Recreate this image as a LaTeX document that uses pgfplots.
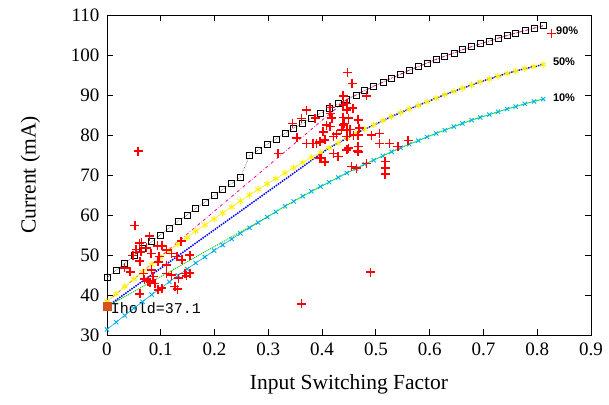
\documentclass[border=0pt]{standalone}
\usepackage{fontspec}
\setmainfont{Liberation Serif}
\newfontfamily\tagfont{Liberation Sans}
\newfontfamily\holdfont{Liberation Mono}
\usepackage{pgfplots}
\pgfplotsset{compat=1.18}
\usepackage{pgfplotstable}

\definecolor{holdpt}{HTML}{D4531E}
\definecolor{crossred}{HTML}{FF0000}

% 90% curve
\pgfplotstableread{
x y
0.000 44.3
0.017 46.2
0.033 48.0
0.050 49.8
0.066 51.6
0.083 53.3
0.099 55.0
0.116 56.7
0.132 58.4
0.149 60.0
0.165 61.6
0.182 63.2
0.199 64.8
0.215 66.4
0.232 67.9
0.248 69.4
0.265 74.8
0.281 76.2
0.298 77.7
0.314 79.0
0.331 80.4
0.347 81.7
0.364 82.9
0.380 84.2
0.397 85.4
0.413 86.6
0.430 87.8
0.446 88.9
0.463 90.0
0.479 91.1
0.496 92.2
0.513 93.2
0.529 94.2
0.546 95.2
0.562 96.2
0.579 97.1
0.595 98.0
0.612 98.9
0.628 99.7
0.645 100.5
0.661 101.3
0.678 102.1
0.694 102.8
0.711 103.5
0.727 104.2
0.744 104.9
0.760 105.5
0.777 106.1
0.794 106.7
0.811 107.3
}\ninety

% 50% curve
\pgfplotstableread{
x y
0.000 38.4
0.017 40.3
0.033 42.1
0.050 44.0
0.066 45.8
0.083 47.6
0.099 49.4
0.116 51.1
0.132 52.7
0.149 54.4
0.165 56.0
0.182 57.5
0.199 59.0
0.215 60.5
0.232 62.0
0.248 63.5
0.265 65.0
0.281 66.4
0.298 67.8
0.314 69.1
0.331 70.5
0.347 71.8
0.364 73.1
0.380 74.4
0.397 75.6
0.413 76.8
0.430 78.0
0.446 79.2
0.463 80.4
0.479 81.5
0.496 82.5
0.513 83.6
0.529 84.6
0.546 85.6
0.562 86.5
0.579 87.4
0.595 88.3
0.612 89.2
0.628 90.1
0.645 90.9
0.661 91.7
0.678 92.5
0.694 93.3
0.711 94.0
0.727 94.7
0.744 95.4
0.760 96.0
0.777 96.6
0.794 97.1
0.811 97.6
}\fifty

% 10% curve
\pgfplotstableread{
x y
0.000 31.4
0.017 33.2
0.033 34.9
0.050 36.7
0.066 38.3
0.083 40.1
0.099 41.6
0.116 43.3
0.132 44.9
0.149 46.5
0.165 48.0
0.182 49.5
0.199 51.1
0.215 52.5
0.232 54.0
0.248 55.4
0.265 56.8
0.281 58.1
0.298 59.5
0.314 60.8
0.331 62.2
0.347 63.4
0.364 64.7
0.380 65.9
0.397 67.1
0.413 68.2
0.430 69.4
0.446 70.5
0.463 71.6
0.479 72.7
0.496 73.7
0.513 74.8
0.529 75.8
0.546 76.8
0.562 77.7
0.579 78.6
0.595 79.5
0.612 80.4
0.628 81.2
0.645 82.1
0.661 82.9
0.678 83.7
0.694 84.4
0.711 85.1
0.727 85.8
0.744 86.5
0.760 87.1
0.777 87.8
0.794 88.4
0.811 89.0
}\ten

% measured points
\pgfplotstableread{
x y
0.058 76.0
0.052 57.4
0.060 53.0
0.079 54.7
0.102 52.3
0.138 53.5
0.064 53.1
0.094 52.3
0.054 51.4
0.063 50.8
0.082 50.4
0.111 51.3
0.120 50.4
0.097 49.6
0.130 49.6
0.061 48.5
0.095 48.3
0.043 45.8
0.068 45.4
0.083 46.3
0.111 47.5
0.086 44.6
0.111 45.4
0.120 45.0
0.133 44.2
0.145 45.4
0.089 42.9
0.102 41.7
0.126 42.1
0.131 41.5
0.139 48.8
0.154 50.0
0.154 45.5
0.148 44.8
0.061 40.3
0.095 41.3
0.033 46.8
0.076 43.5
0.070 44.0
0.080 43.2
0.073 51.8
0.048 49.9
0.362 37.8
0.490 45.7
0.447 95.6
0.456 92.9
0.483 89.8
0.457 86.7
0.439 87.5
0.371 86.2
0.362 84.1
0.345 82.9
0.387 84.2
0.418 84.2
0.415 86.9
0.415 85.4
0.439 84.4
0.449 84.2
0.467 83.8
0.408 82.5
0.415 82.1
0.439 82.5
0.402 80.8
0.436 81.3
0.452 81.4
0.469 81.7
0.371 77.9
0.383 77.9
0.390 77.9
0.353 79.3
0.396 78.3
0.405 78.8
0.421 79.6
0.427 80.2
0.446 79.6
0.458 80.0
0.467 80.0
0.492 80.0
0.507 80.4
0.467 77.1
0.467 75.8
0.449 76.7
0.507 77.9
0.525 77.9
0.541 77.1
0.560 78.6
0.318 75.4
0.396 74.2
0.430 74.6
0.421 75.4
0.405 73.3
0.399 74.2
0.455 72.1
0.464 71.7
0.483 72.9
0.517 73.4
0.517 71.7
0.517 70.2
0.466 76.0
0.439 89.8
0.446 87.9
0.446 86.3
0.442 82.9
0.446 81.3
0.446 76.3
0.827 105.4
}\meas

\begin{document}
\begin{tikzpicture}
\begin{axis}[
  scale only axis, width=484pt, height=320pt,
  xmin=0, xmax=0.9, ymin=30, ymax=110,
  xtick={0,0.1,0.2,0.3,0.4,0.5,0.6,0.7,0.8,0.9},
  ytick={30,40,50,60,70,80,90,100,110},
  /pgf/number format/assume math mode=true,
  tick label style={font=\fontsize{19}{20}\selectfont},
  xticklabel style={yshift=-4pt},
  yticklabel style={xshift=-4pt},
  tick align=inside, major tick length=6pt,
  tick style={line width=0.8pt, black},
  axis line style={line width=0.8pt},
  xlabel={Input Switching Factor},
  ylabel={Current (mA)},
  label style={font=\fontsize{21.5}{24}\selectfont},
  xlabel style={yshift=-12pt},
  ylabel style={yshift=24pt},
  clip=false,
]
% 90% curve
\addplot[black!70, densely dotted, line width=0.6pt, mark=square, mark size=3pt,
  mark options={solid, black, line width=0.7pt}] table {\ninety};
\addplot[magenta, dash dot, line width=0.8pt] coordinates {(0,38.3) (0.446,88.9)};
\addplot[magenta, dash dot, line width=0.8pt, restrict x to domain=0.44:1] table {\ninety};
% 50% curve
\addplot[yellow, line width=0.6pt, mark=asterisk, mark size=3.3pt,
  mark options={line width=1pt}] table {\fifty};
\addplot[blue, densely dotted, line width=1.5pt] coordinates {(0,37.1) (0.413,76.8)};
\addplot[blue, densely dotted, line width=1.5pt, restrict x to domain=0.41:1] table {\fifty};
% 10% curve
\addplot[cyan, line width=0.6pt, mark=x, mark size=3pt,
  mark options={line width=0.9pt}] table {\ten};
\addplot[green!80!black, densely dotted, line width=1pt] coordinates {(0,37.1) (0.298,59.5)};
\addplot[green, densely dotted, line width=1pt, restrict x to domain=0.29:1] table {\ten};
% measurements
\addplot[only marks, mark=+, mark size=4.5pt,
  mark options={draw=crossred, line width=1.5pt}] table {\meas};
% holding current
\addplot[only marks, holdpt, mark=square*, mark size=4pt] coordinates {(0,37.1)};
\node[anchor=west, font=\holdfont\fontsize{15}{16}\selectfont, inner sep=0pt] at (axis cs:0.007,36.8) {Ihold=37.1};
\node[anchor=west, font=\tagfont\bfseries\fontsize{11}{12}\selectfont, inner sep=0pt] at (axis cs:0.835,106.0) {90\%};
\node[anchor=west, font=\tagfont\bfseries\fontsize{11}{12}\selectfont, inner sep=0pt] at (axis cs:0.829,98.3) {50\%};
\node[anchor=west, font=\tagfont\bfseries\fontsize{11}{12}\selectfont, inner sep=0pt] at (axis cs:0.829,89.3) {10\%};
\end{axis}
\pgfresetboundingbox
\path (current axis.south west) ++(-107pt,-69pt) rectangle ++(609pt,404pt);
\end{tikzpicture}
\end{document}
